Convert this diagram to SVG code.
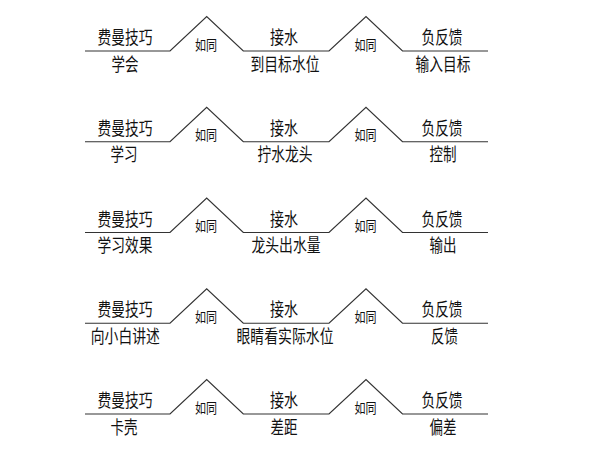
<svg xmlns="http://www.w3.org/2000/svg" width="600" height="451" viewBox="0 0 600 451">
<style>
text{font-family:"Liberation Sans","Noto Sans CJK SC",sans-serif;fill:#111;text-anchor:middle}
.m{font-size:18px}
.s{font-size:14px}
.ln{fill:none;stroke:#333;stroke-width:1.2}
</style>
<rect width="600" height="451" fill="#fff"/>
<g id="connectors">
<path class="ln" d="M85 51H170L206.7 16.5L243.3 51H329L366 16.5L402.5 51H488"/>
<path class="ln" d="M85 141.75H170L206.7 107.25L243.3 141.75H329L366 107.25L402.5 141.75H488"/>
<path class="ln" d="M85 232.5H170L206.7 198L243.3 232.5H329L366 198L402.5 232.5H488"/>
<path class="ln" d="M85 323.25H170L206.7 288.75L243.3 323.25H329L366 288.75L402.5 323.25H488"/>
<path class="ln" d="M85 414H170L206.7 379.5L243.3 414H329L366 379.5L402.5 414H488"/>
</g>
<g id="row1" transform="translate(0,51)">
<g id="r1-a"><text class="m" x="125" y="-7" textLength="55" lengthAdjust="spacingAndGlyphs">费曼技巧</text><text class="m" x="125" y="19.5" textLength="27" lengthAdjust="spacingAndGlyphs">学会</text></g>
<g id="r1-s1"><text class="s" x="206" y="-1.5" textLength="22" lengthAdjust="spacingAndGlyphs">如同</text></g>
<g id="r1-b"><text class="m" x="284" y="-7" textLength="28" lengthAdjust="spacingAndGlyphs">接水</text><text class="m" x="285" y="19.5" textLength="69" lengthAdjust="spacingAndGlyphs">到目标水位</text></g>
<g id="r1-s2"><text class="s" x="365.5" y="-1.5" textLength="22" lengthAdjust="spacingAndGlyphs">如同</text></g>
<g id="r1-c"><text class="m" x="442" y="-7" textLength="41" lengthAdjust="spacingAndGlyphs">负反馈</text><text class="m" x="443" y="19.5" textLength="55" lengthAdjust="spacingAndGlyphs">输入目标</text></g>
</g>
<g id="row2" transform="translate(0,141.75)">
<g id="r2-a"><text class="m" x="125" y="-7" textLength="55" lengthAdjust="spacingAndGlyphs">费曼技巧</text><text class="m" x="124" y="19.5" textLength="27" lengthAdjust="spacingAndGlyphs">学习</text></g>
<g id="r2-s1"><text class="s" x="206" y="-1.5" textLength="22" lengthAdjust="spacingAndGlyphs">如同</text></g>
<g id="r2-b"><text class="m" x="284" y="-7" textLength="28" lengthAdjust="spacingAndGlyphs">接水</text><text class="m" x="285" y="19.5" textLength="55" lengthAdjust="spacingAndGlyphs">拧水龙头</text></g>
<g id="r2-s2"><text class="s" x="365.5" y="-1.5" textLength="22" lengthAdjust="spacingAndGlyphs">如同</text></g>
<g id="r2-c"><text class="m" x="442" y="-7" textLength="41" lengthAdjust="spacingAndGlyphs">负反馈</text><text class="m" x="443" y="19.5" textLength="27" lengthAdjust="spacingAndGlyphs">控制</text></g>
</g>
<g id="row3" transform="translate(0,232.5)">
<g id="r3-a"><text class="m" x="125" y="-7" textLength="55" lengthAdjust="spacingAndGlyphs">费曼技巧</text><text class="m" x="125" y="19.5" textLength="55" lengthAdjust="spacingAndGlyphs">学习效果</text></g>
<g id="r3-s1"><text class="s" x="206" y="-1.5" textLength="22" lengthAdjust="spacingAndGlyphs">如同</text></g>
<g id="r3-b"><text class="m" x="284" y="-7" textLength="28" lengthAdjust="spacingAndGlyphs">接水</text><text class="m" x="286" y="19.5" textLength="69" lengthAdjust="spacingAndGlyphs">龙头出水量</text></g>
<g id="r3-s2"><text class="s" x="365.5" y="-1.5" textLength="22" lengthAdjust="spacingAndGlyphs">如同</text></g>
<g id="r3-c"><text class="m" x="442" y="-7" textLength="41" lengthAdjust="spacingAndGlyphs">负反馈</text><text class="m" x="443" y="19.5" textLength="27" lengthAdjust="spacingAndGlyphs">输出</text></g>
</g>
<g id="row4" transform="translate(0,323.25)">
<g id="r4-a"><text class="m" x="125" y="-7" textLength="55" lengthAdjust="spacingAndGlyphs">费曼技巧</text><text class="m" x="125.3" y="19.5" textLength="69" lengthAdjust="spacingAndGlyphs">向小白讲述</text></g>
<g id="r4-s1"><text class="s" x="206" y="-1.5" textLength="22" lengthAdjust="spacingAndGlyphs">如同</text></g>
<g id="r4-b"><text class="m" x="284" y="-7" textLength="28" lengthAdjust="spacingAndGlyphs">接水</text><text class="m" x="285" y="19.5" textLength="97" lengthAdjust="spacingAndGlyphs">眼睛看实际水位</text></g>
<g id="r4-s2"><text class="s" x="365.5" y="-1.5" textLength="22" lengthAdjust="spacingAndGlyphs">如同</text></g>
<g id="r4-c"><text class="m" x="442" y="-7" textLength="41" lengthAdjust="spacingAndGlyphs">负反馈</text><text class="m" x="444.5" y="19.5" textLength="27" lengthAdjust="spacingAndGlyphs">反馈</text></g>
</g>
<g id="row5" transform="translate(0,414)">
<g id="r5-a"><text class="m" x="125" y="-7" textLength="55" lengthAdjust="spacingAndGlyphs">费曼技巧</text><text class="m" x="124" y="19.5" textLength="27" lengthAdjust="spacingAndGlyphs">卡壳</text></g>
<g id="r5-s1"><text class="s" x="206" y="-1.5" textLength="22" lengthAdjust="spacingAndGlyphs">如同</text></g>
<g id="r5-b"><text class="m" x="284" y="-7" textLength="28" lengthAdjust="spacingAndGlyphs">接水</text><text class="m" x="284" y="19.5" textLength="27" lengthAdjust="spacingAndGlyphs">差距</text></g>
<g id="r5-s2"><text class="s" x="365.5" y="-1.5" textLength="22" lengthAdjust="spacingAndGlyphs">如同</text></g>
<g id="r5-c"><text class="m" x="442" y="-7" textLength="41" lengthAdjust="spacingAndGlyphs">负反馈</text><text class="m" x="443" y="19.5" textLength="27" lengthAdjust="spacingAndGlyphs">偏差</text></g>
</g>
</svg>
